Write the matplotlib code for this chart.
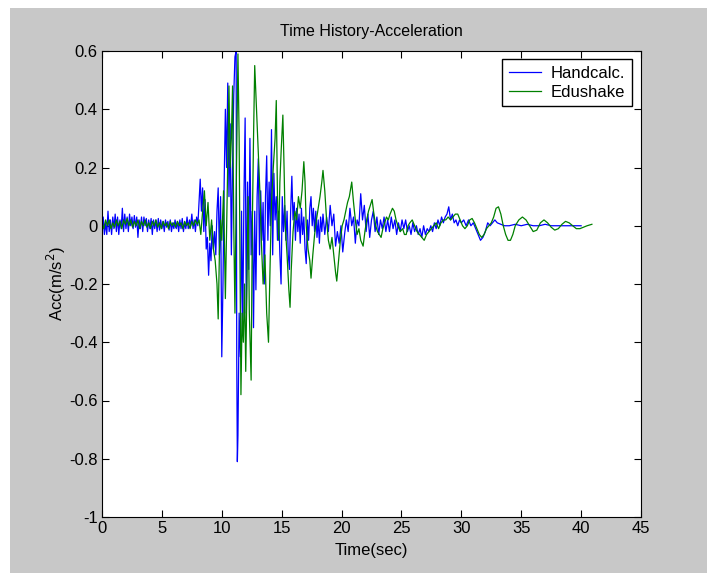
import matplotlib.pyplot as plt
from matplotlib.patches import Rectangle

# Handcalc. time history (sec, m/s^2)
hand_t = [0.0, 0.1, 0.2, 0.3, 0.4, 0.5, 0.6, 0.7, 0.8, 0.9,
          1.0, 1.1, 1.2, 1.3, 1.4, 1.5, 1.6, 1.7, 1.8, 1.9,
          2.0, 2.1, 2.2, 2.3, 2.4, 2.5, 2.6, 2.7, 2.8, 2.9,
          3.0, 3.1, 3.2, 3.3, 3.4, 3.5, 3.6, 3.7, 3.8, 3.9,
          4.0, 4.1, 4.2, 4.3, 4.4, 4.5, 4.6, 4.7, 4.8, 4.9,
          5.0, 5.1, 5.2, 5.3, 5.4, 5.5, 5.6, 5.7, 5.8, 5.9,
          6.0, 6.1, 6.2, 6.3, 6.4, 6.5, 6.6, 6.7, 6.8, 6.9,
          7.0, 7.1, 7.2, 7.3, 7.4, 7.5, 7.6, 7.7, 7.8, 7.9,
          8.0, 8.1, 8.2, 8.3, 8.4, 8.5, 8.6, 8.7, 8.8, 8.9,
          9.0, 9.1, 9.2, 9.3, 9.4, 9.5, 9.6, 9.7, 9.8, 9.9,
          10.0, 10.1, 10.2, 10.3, 10.4, 10.5, 10.6, 10.7, 10.8, 10.9,
          11.0, 11.1, 11.2, 11.25, 11.3, 11.35, 11.45, 11.55, 11.65, 11.75,
          11.85, 11.95, 12.05, 12.15, 12.25, 12.35, 12.45, 12.55, 12.65, 12.75,
          12.85, 12.95, 13.05, 13.15, 13.25, 13.35, 13.45, 13.55, 13.65, 13.75,
          13.85, 13.95, 14.05, 14.15, 14.25, 14.35, 14.45, 14.55, 14.65, 14.75,
          14.85, 14.95, 15.05, 15.15, 15.25, 15.35, 15.45, 15.55, 15.65, 15.75,
          15.85, 15.95, 16.05, 16.15, 16.25, 16.35, 16.45, 16.55, 16.65, 16.75,
          16.85, 16.95, 17.05, 17.15, 17.25, 17.35, 17.45, 17.55, 17.65, 17.75,
          17.85, 17.95, 18.05, 18.15, 18.25, 18.35, 18.45, 18.6, 18.75, 18.9,
          19.05, 19.2, 19.35, 19.5, 19.65, 19.8, 19.95, 20.1, 20.25, 20.4,
          20.55, 20.7, 20.85, 21.0, 21.15, 21.3, 21.45, 21.6, 21.75, 21.9,
          22.05, 22.2, 22.35, 22.5, 22.65, 22.8, 22.95, 23.1, 23.25, 23.4,
          23.55, 23.7, 23.85, 24.0, 24.15, 24.3, 24.45, 24.6, 24.75, 24.9,
          25.05, 25.2, 25.35, 25.5, 25.65, 25.8, 25.95, 26.1, 26.25, 26.4,
          26.55, 26.7, 26.85, 27.0, 27.15, 27.3, 27.45, 27.6, 27.75, 27.9,
          28.05, 28.2, 28.35, 28.5, 28.65, 28.8, 28.95, 29.1, 29.25, 29.4,
          29.55, 29.7, 29.85, 30.0, 30.2, 30.4, 30.6, 30.8, 31.0, 31.2,
          31.4, 31.6, 31.8, 32.0, 32.2, 32.4, 32.6, 32.8, 33.0, 33.3,
          33.6, 34.0, 34.5, 35.0, 35.5, 36.0, 36.5, 37.0, 37.5, 38.0,
          39.0, 40.0]
hand_acc = [-0.02, 0.03, -0.03, 0.01, -0.03, 0.05, -0.02, 0.02, -0.03, 0.03,
            -0.01, 0.04, -0.02, 0.03, -0.03, 0.02, -0.01, 0.06, -0.02, 0.04,
            -0.01, 0.03, -0.02, 0.04, 0.0, 0.03, -0.01, 0.035, -0.005, 0.03,
            -0.04, 0.02, -0.01, 0.03, -0.02, 0.03, 0.0, 0.025, -0.02, 0.02,
            -0.01, 0.025, -0.03, 0.02, -0.01, 0.02, -0.02, 0.025, -0.015, 0.02,
            -0.01, 0.015, -0.02, 0.02, -0.005, 0.015, -0.015, 0.02, -0.02, 0.01,
            -0.01, 0.02, -0.01, 0.015, -0.02, 0.02, -0.01, 0.025, -0.02, 0.01,
            -0.01, 0.03, -0.01, 0.02, 0.0, 0.04, -0.01, 0.02, -0.02, 0.03,
            0.0, 0.08, 0.16, 0.05, 0.13, -0.02, 0.09, -0.08, -0.04, -0.17,
            -0.06, -0.12, 0.0, -0.08, -0.02, -0.1, 0.05, 0.13, -0.1, 0.1,
            -0.45, -0.2, 0.15, 0.40, 0.2, 0.49, 0.1, 0.35, -0.1, 0.2,
            0.45, 0.58, 0.6, -0.46, -0.81, -0.72, -0.3, -0.45, 0.05, -0.35,
            0.1, 0.37, -0.3, 0.15, -0.15, 0.3, -0.1, 0.05, -0.35, 0.05,
            -0.22, 0.1, 0.23, -0.1, 0.12, -0.05, 0.08, -0.2, 0.1, 0.24,
            -0.05, 0.15, 0.0, 0.33, -0.1, 0.18, 0.02, 0.1, -0.05, 0.05,
            -0.1, -0.2, 0.1, -0.02, 0.07, -0.05, 0.05, -0.1, -0.15, 0.05,
            0.17, 0.02, 0.08, -0.05, 0.06, -0.02, 0.04, -0.06, 0.06, -0.03,
            0.03, -0.08, -0.13, 0.02, -0.05, 0.06, 0.1, 0.0, 0.06, -0.02,
            0.05, -0.04, 0.02, -0.06, 0.03, -0.02, 0.04, -0.03, 0.03, -0.02,
            0.07, 0.0, 0.04, -0.07, -0.02, -0.06, 0.0, -0.09, -0.03, 0.02,
            -0.02, 0.06, 0.0, 0.03, -0.06, 0.02, 0.0, 0.11, 0.02, 0.07,
            -0.02, 0.04, -0.04, 0.02, 0.05, -0.02, 0.03, -0.03, 0.02, -0.01,
            0.03, -0.02, 0.02, -0.02, 0.03, -0.01, 0.02, -0.03, 0.01, -0.02,
            0.02, -0.01, 0.02, -0.02, 0.0, -0.03, 0.01, -0.02, 0.0, -0.03,
            -0.01, -0.04, 0.0, -0.03, -0.01, -0.02, 0.0, -0.02, 0.01, -0.01,
            0.02, 0.0, 0.03, 0.01, 0.03, 0.04, 0.065, 0.02, 0.04, 0.01,
            0.02, 0.0, 0.02, 0.01, 0.02, 0.0, 0.02, 0.0, 0.01, -0.01,
            -0.03, -0.05, -0.04, -0.02, 0.01, 0.0, 0.01, 0.02, 0.01, 0.005,
            0.0, 0.0, 0.005, 0.0, 0.005, 0.0, 0.0, 0.005, 0.0, 0.0,
            0.0, 0.0]

# Edushake time history (sec, m/s^2)
edu_t = [0.0, 0.15, 0.3, 0.45, 0.6, 0.75, 0.9, 1.05, 1.2, 1.35,
         1.5, 1.65, 1.8, 1.95, 2.1, 2.25, 2.4, 2.55, 2.7, 2.85,
         3.0, 3.15, 3.3, 3.45, 3.6, 3.75, 3.9, 4.05, 4.2, 4.35,
         4.5, 4.65, 4.8, 4.95, 5.1, 5.25, 5.4, 5.55, 5.7, 5.85,
         6.0, 6.15, 6.3, 6.45, 6.6, 6.75, 6.9, 7.05, 7.2, 7.35,
         7.5, 7.65, 7.8, 7.95, 8.1, 8.25, 8.4, 8.55, 8.7, 8.85,
         9.0, 9.15, 9.3, 9.45, 9.6, 9.7, 9.8, 9.9, 10.0, 10.15,
         10.3, 10.45, 10.6, 10.7, 10.8, 10.9, 11.0, 11.1, 11.2, 11.35,
         11.45, 11.6, 11.7, 11.8, 11.9, 12.0, 12.1, 12.2, 12.3, 12.45,
         12.55, 12.65, 12.75, 12.85, 12.95, 13.1, 13.2, 13.3, 13.45, 13.6,
         13.75, 13.9, 14.0, 14.15, 14.3, 14.45, 14.55, 14.65, 14.75, 14.85,
         14.95, 15.1, 15.2, 15.3, 15.45, 15.6, 15.7, 15.8, 15.95, 16.1,
         16.25, 16.4, 16.55, 16.7, 16.85, 16.95, 17.05, 17.2, 17.35, 17.45,
         17.6, 17.75, 17.9, 18.05, 18.2, 18.35, 18.45, 18.6, 18.75, 18.9,
         19.05, 19.2, 19.35, 19.5, 19.6, 19.75, 19.9, 20.05, 20.2, 20.35,
         20.5, 20.65, 20.85, 21.0, 21.15, 21.3, 21.45, 21.6, 21.8, 21.95,
         22.1, 22.25, 22.4, 22.55, 22.7, 22.85, 23.0, 23.15, 23.3, 23.45,
         23.6, 23.75, 23.9, 24.05, 24.25, 24.4, 24.55, 24.7, 24.9, 25.1,
         25.25, 25.4, 25.55, 25.7, 25.9, 26.1, 26.3, 26.5, 26.7, 26.9,
         27.1, 27.3, 27.5, 27.7, 27.9, 28.1, 28.3, 28.5, 28.7, 28.9,
         29.1, 29.3, 29.5, 29.7, 29.9, 30.1, 30.3, 30.5, 30.7, 30.9,
         31.1, 31.3, 31.5, 31.7, 31.9, 32.1, 32.3, 32.5, 32.7, 32.9,
         33.1, 33.3, 33.5, 33.7, 33.9, 34.1, 34.3, 34.5, 34.8, 35.1,
         35.4, 35.7, 36.0, 36.3, 36.6, 36.9, 37.2, 37.5, 37.8, 38.1,
         38.4, 38.7, 39.0, 39.3, 39.6, 39.9, 40.2, 40.5, 40.9]
edu_acc = [0.01, -0.01, 0.02, 0.0, 0.02, -0.01, 0.01, -0.005, 0.02, 0.0,
           0.015, -0.01, 0.02, 0.005, 0.025, 0.0, 0.02, -0.005, 0.015, 0.0,
           0.02, -0.01, 0.015, 0.0, 0.02, -0.005, 0.01, -0.01, 0.015, 0.0,
           0.02, -0.005, 0.01, -0.01, 0.015, 0.0, 0.01, -0.01, 0.015, 0.0,
           0.01, -0.005, 0.015, 0.0, 0.01, -0.01, 0.015, 0.0, 0.01, -0.01,
           0.015, 0.0, 0.02, 0.005, 0.02, -0.03, 0.05, 0.12, 0.0, 0.08,
           -0.05, 0.02, -0.08, -0.12, -0.2, -0.32, -0.1, 0.02, -0.05, 0.12,
           -0.25, 0.1, 0.48, 0.2, 0.3, 0.48, 0.0, -0.3, 0.1, 0.59,
           0.3, -0.58, -0.3, -0.4, -0.2, -0.5, -0.2, 0.1, -0.3, -0.53,
           0.0, 0.3, 0.55, 0.45, 0.35, 0.2, 0.1, -0.05, -0.2, -0.1,
           -0.3, -0.40, -0.2, 0.08, 0.2, 0.3, 0.43, 0.1, -0.05, 0.15,
           0.25, 0.38, 0.2, 0.0, -0.1, -0.22, -0.28, -0.15, -0.02, 0.05,
           0.02, 0.1, 0.06, 0.12, 0.22, 0.15, 0.0, -0.08, -0.12, -0.18,
           -0.1, -0.03, 0.02, 0.06, 0.1, 0.15, 0.19, 0.12, 0.02, -0.05,
           -0.08, -0.04, -0.1, -0.16, -0.19, -0.12, -0.05, 0.0, 0.02, 0.05,
           0.08, 0.1, 0.15, 0.08, 0.02, -0.03, -0.01, -0.05, -0.07, -0.02,
           0.02, 0.05, 0.07, 0.09, 0.04, 0.0, -0.02, -0.03, -0.04, -0.01,
           0.01, 0.03, 0.02, 0.04, 0.06, 0.05, 0.02, 0.0, -0.02, -0.01,
           -0.03, -0.03, 0.0, 0.01, 0.02, 0.0, -0.02, -0.03, -0.04, -0.05,
           -0.03, -0.02, -0.01, 0.0, 0.01, -0.01, 0.01, 0.02, 0.02, 0.03,
           0.02, 0.03, 0.04, 0.04, 0.02, 0.0, -0.01, 0.0, 0.02, 0.025,
           0.01, -0.01, -0.03, -0.04, -0.03, -0.01, 0.0, 0.01, 0.03, 0.06,
           0.065, 0.04, 0.0, -0.03, -0.05, -0.05, -0.03, 0.0, 0.02, 0.03,
           0.02, 0.0, -0.02, -0.015, 0.01, 0.02, 0.01, -0.005, -0.015, -0.01,
           0.005, 0.015, 0.01, 0.0, -0.01, -0.01, -0.005, 0.0, 0.005]

x_ticks = [0, 5, 10, 15, 20, 25, 30, 35, 40, 45]
y_ticks = [-1, -0.8, -0.6, -0.4, -0.2, 0, 0.2, 0.4, 0.6]
y_labels = ['-1', '-0.8', '-0.6', '-0.4', '-0.2', '0', '0.2', '0.4', '0.6']

plt.rcParams['font.family'] = ['Liberation Sans', 'DejaVu Sans']
plt.rcParams['font.size'] = 12

fig = plt.figure(figsize=(7.07, 5.73), dpi=100, facecolor='white')
# grey matlab figure background
fig.patches.append(Rectangle((10 / 707, 0), 1, 1 - 8 / 573, transform=fig.transFigure,
                             facecolor='#c8c8c8', edgecolor='none', zorder=-10))

ax = fig.add_axes([102 / 707, 1 - 517 / 573, 539 / 707, 466 / 573])
ax.set_facecolor('white')

ax.plot(hand_t, hand_acc, color='#0000ff', lw=0.9, label='Handcalc.')
ax.plot(edu_t, edu_acc, color='#008000', lw=0.9, label='Edushake')

ax.set_xlim(0, 45)
ax.set_ylim(-1, 0.6)
ax.set_xticks(x_ticks)
ax.set_yticks(y_ticks)
ax.set_yticklabels(y_labels)
ax.tick_params(direction='in', top=True, right=True, length=5, width=0.8, pad=3,
               labelsize=12)
for s in ax.spines.values():
    s.set_linewidth(0.8)

ax.set_title('Time History-Acceleration', fontsize=11.5, pad=11)
ax.set_xlabel('Time(sec)', fontsize=12, labelpad=5)
ax.set_ylabel('Acc(m/s$^2$)', fontsize=12, labelpad=1)

leg = ax.legend(loc='upper right', bbox_to_anchor=(0.983, 0.983), fancybox=False,
                edgecolor='black', framealpha=1, borderpad=0.4, handlelength=1.9,
                handletextpad=0.6, labelspacing=0.25, borderaxespad=0, fontsize=12)
leg.get_frame().set_linewidth(1.0)

fig.savefig('out.png', dpi=100, facecolor=fig.get_facecolor())
